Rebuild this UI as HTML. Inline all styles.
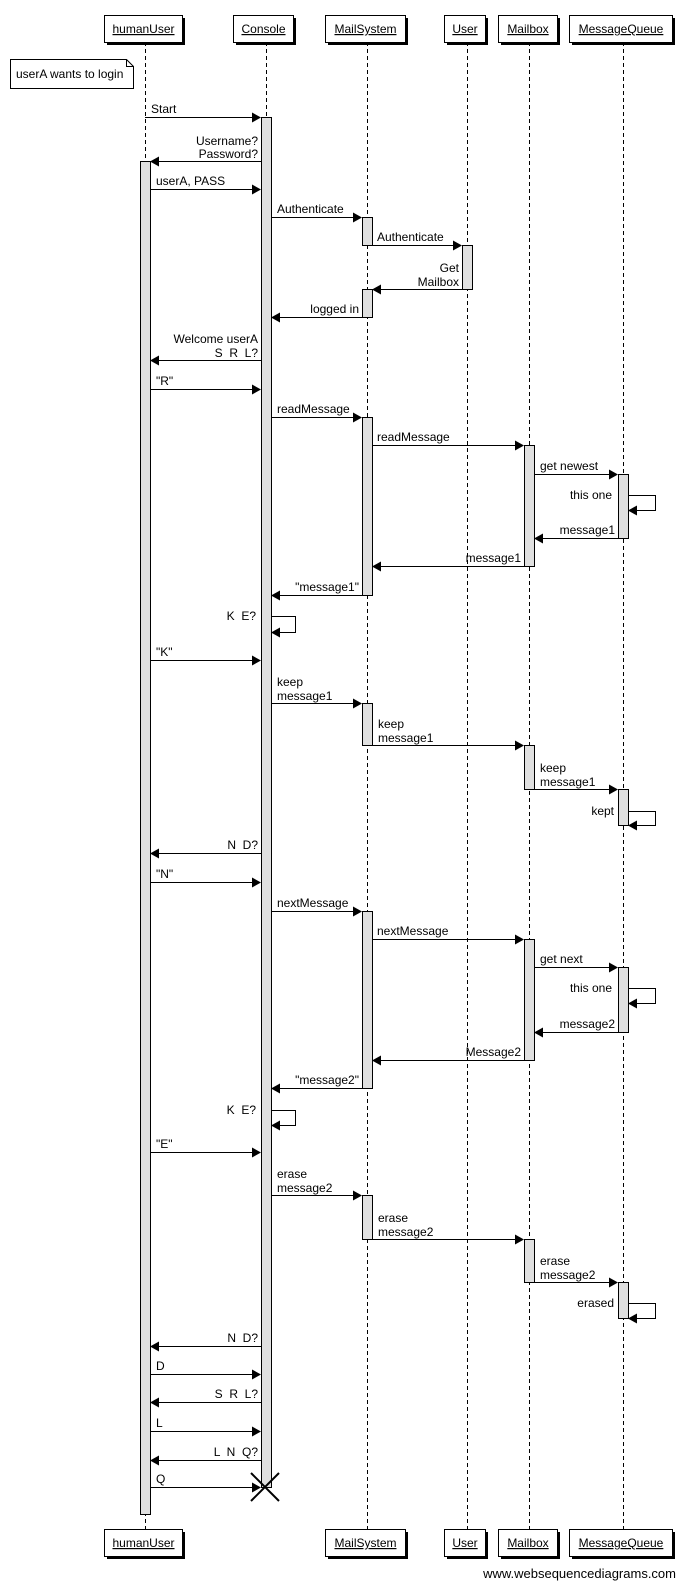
<!DOCTYPE html>
<html><head><meta charset="utf-8"><style>
html,body{margin:0;padding:0;background:#fff;}
svg{display:block;}
text{font-family:"Liberation Sans",Arial,sans-serif;font-size:12px;fill:#000;white-space:pre;}
.e{text-anchor:end;}
.ll{stroke:#000;stroke-width:1;stroke-dasharray:4,3;}
.a{fill:#e0e0e0;stroke:#000;stroke-width:1;}
.m{stroke:#000;stroke-width:1;}
.b{fill:#fff;stroke:#000;stroke-width:1;}
.s{fill:#000;}
.u{text-decoration:underline;text-anchor:middle;}
</style></head><body>
<svg width="691" height="1583" viewBox="0 0 691 1583" xmlns="http://www.w3.org/2000/svg" xml:space="preserve">
<line class="ll" x1="145.5" y1="42" x2="145.5" y2="1529"/>
<line class="ll" x1="266.5" y1="42" x2="266.5" y2="1487"/>
<line class="ll" x1="367.5" y1="42" x2="367.5" y2="1529"/>
<line class="ll" x1="467.5" y1="42" x2="467.5" y2="1529"/>
<line class="ll" x1="529.5" y1="42" x2="529.5" y2="1529"/>
<line class="ll" x1="623.5" y1="42" x2="623.5" y2="1529"/>

<g>
<rect class="s" x="107" y="18" width="78" height="27"/><rect class="b" x="104.5" y="15.5" width="78" height="27"/><text class="u" x="143.5" y="33">humanUser</text>
<rect class="s" x="236" y="18" width="60" height="27"/><rect class="b" x="233.5" y="15.5" width="60" height="27"/><text class="u" x="263.5" y="33">Console</text>
<rect class="s" x="328" y="18" width="80" height="27"/><rect class="b" x="325.5" y="15.5" width="80" height="27"/><text class="u" x="365.5" y="33">MailSystem</text>
<rect class="s" x="447" y="18" width="41" height="27"/><rect class="b" x="444.5" y="15.5" width="41" height="27"/><text class="u" x="465" y="33">User</text>
<rect class="s" x="501" y="18" width="59" height="27"/><rect class="b" x="498.5" y="15.5" width="59" height="27"/><text class="u" x="528" y="33">Mailbox</text>
<rect class="s" x="572" y="18" width="103" height="27"/><rect class="b" x="569.5" y="15.5" width="103" height="27"/><text class="u" x="621" y="33">MessageQueue</text>
</g>

<g>
<rect class="s" x="107" y="1532" width="78" height="27"/><rect class="b" x="104.5" y="1529.5" width="78" height="27"/><text class="u" x="143.5" y="1547">humanUser</text>
<rect class="s" x="328" y="1532" width="80" height="27"/><rect class="b" x="325.5" y="1529.5" width="80" height="27"/><text class="u" x="365.5" y="1547">MailSystem</text>
<rect class="s" x="447" y="1532" width="41" height="27"/><rect class="b" x="444.5" y="1529.5" width="41" height="27"/><text class="u" x="465" y="1547">User</text>
<rect class="s" x="501" y="1532" width="59" height="27"/><rect class="b" x="498.5" y="1529.5" width="59" height="27"/><text class="u" x="528" y="1547">Mailbox</text>
<rect class="s" x="572" y="1532" width="103" height="27"/><rect class="b" x="569.5" y="1529.5" width="103" height="27"/><text class="u" x="621" y="1547">MessageQueue</text>
</g>

<path class="b" d="M10.5 59.5 H126.5 L133.5 66.5 V88.5 H10.5 Z"/>
<path d="M126.5 59.5 V66.5 H133.5" fill="none" stroke="#000"/>
<text x="16" y="78">userA wants to login</text>

<rect class="a" x="140.5" y="161.5" width="10" height="1353"/>
<rect class="a" x="261.5" y="117.5" width="10" height="1370"/>
<rect class="a" x="362.5" y="217.5" width="10" height="28"/>
<rect class="a" x="362.5" y="289.5" width="10" height="28"/>
<rect class="a" x="362.5" y="417.5" width="10" height="178"/>
<rect class="a" x="362.5" y="703.5" width="10" height="42"/>
<rect class="a" x="362.5" y="911.5" width="10" height="177"/>
<rect class="a" x="362.5" y="1195.5" width="10" height="44"/>
<rect class="a" x="462.5" y="245.5" width="10" height="44"/>
<rect class="a" x="524.5" y="445.5" width="10" height="121"/>
<rect class="a" x="524.5" y="745.5" width="10" height="44"/>
<rect class="a" x="524.5" y="939.5" width="10" height="121"/>
<rect class="a" x="524.5" y="1239.5" width="10" height="43"/>
<rect class="a" x="618.5" y="474.5" width="10" height="64"/>
<rect class="a" x="618.5" y="789.5" width="10" height="36"/>
<rect class="a" x="618.5" y="967.5" width="10" height="65"/>
<rect class="a" x="618.5" y="1282.5" width="10" height="36"/>

<g>
<line class="m" x1="145" y1="117.5" x2="254" y2="117.5"/><polygon points="261,117.5 252,112.5 252,122.5"/>
<text x="151" y="113">Start</text>
<line class="m" x1="261" y1="161.5" x2="156" y2="161.5"/><polygon points="150,161.5 159,156.5 159,166.5"/>
<text class="e" x="258" y="145">Username?</text><text class="e" x="258" y="158">Password?</text>
<line class="m" x1="150" y1="189.5" x2="254" y2="189.5"/><polygon points="261,189.5 252,184.5 252,194.5"/>
<text x="156" y="185">userA, PASS</text>
<line class="m" x1="271" y1="217.5" x2="355" y2="217.5"/><polygon points="362,217.5 353,212.5 353,222.5"/>
<text x="277" y="213">Authenticate</text>
<line class="m" x1="372" y1="245.5" x2="455" y2="245.5"/><polygon points="462,245.5 453,240.5 453,250.5"/>
<text x="377" y="241">Authenticate</text>
<line class="m" x1="462" y1="289.5" x2="378" y2="289.5"/><polygon points="372,289.5 381,284.5 381,294.5"/>
<text class="e" x="459" y="272">Get</text><text class="e" x="459" y="286">Mailbox</text>
<line class="m" x1="362" y1="317.5" x2="277" y2="317.5"/><polygon points="271,317.5 280,312.5 280,322.5"/>
<text class="e" x="359" y="313">logged in</text>
<line class="m" x1="261" y1="360.5" x2="156" y2="360.5"/><polygon points="150,360.5 159,355.5 159,365.5"/>
<text class="e" x="258" y="343">Welcome userA</text><text class="e" x="258" y="357">S  R  L?</text>
<line class="m" x1="150" y1="389.5" x2="254" y2="389.5"/><polygon points="261,389.5 252,384.5 252,394.5"/>
<text x="156" y="385">"R"</text>
<line class="m" x1="271" y1="417.5" x2="355" y2="417.5"/><polygon points="362,417.5 353,412.5 353,422.5"/>
<text x="277" y="413">readMessage</text>
<line class="m" x1="372" y1="445.5" x2="517" y2="445.5"/><polygon points="524,445.5 515,440.5 515,450.5"/>
<text x="377" y="441">readMessage</text>
<line class="m" x1="534" y1="474.5" x2="611" y2="474.5"/><polygon points="618,474.5 609,469.5 609,479.5"/>
<text x="540" y="470">get newest</text>
<polyline class="m" fill="none" points="628,495.5 655.5,495.5 655.5,510.5 634,510.5"/><polygon points="628,510.5 637,505.5 637,515.5"/>
<text class="e" x="612" y="499">this one</text>
<line class="m" x1="618" y1="538.5" x2="540" y2="538.5"/><polygon points="534,538.5 543,533.5 543,543.5"/>
<text class="e" x="615" y="534">message1</text>
<line class="m" x1="524" y1="566.5" x2="378" y2="566.5"/><polygon points="372,566.5 381,561.5 381,571.5"/>
<text class="e" x="521" y="562">message1</text>
<line class="m" x1="362" y1="595.5" x2="277" y2="595.5"/><polygon points="271,595.5 280,590.5 280,600.5"/>
<text class="e" x="359" y="591">"message1"</text>
<polyline class="m" fill="none" points="271,616.5 295.5,616.5 295.5,632.5 277,632.5"/><polygon points="271,632.5 280,627.5 280,637.5"/>
<text class="e" x="256" y="620">K  E?</text>
<line class="m" x1="150" y1="660.5" x2="254" y2="660.5"/><polygon points="261,660.5 252,655.5 252,665.5"/>
<text x="156" y="656">"K"</text>
<line class="m" x1="271" y1="703.5" x2="355" y2="703.5"/><polygon points="362,703.5 353,698.5 353,708.5"/>
<text x="277" y="686">keep</text><text x="277" y="700">message1</text>
<line class="m" x1="372" y1="745.5" x2="517" y2="745.5"/><polygon points="524,745.5 515,740.5 515,750.5"/>
<text x="378" y="728">keep</text><text x="378" y="742">message1</text>
<line class="m" x1="534" y1="789.5" x2="611" y2="789.5"/><polygon points="618,789.5 609,784.5 609,794.5"/>
<text x="540" y="772">keep</text><text x="540" y="786">message1</text>
<polyline class="m" fill="none" points="628,811.5 655.5,811.5 655.5,825.5 634,825.5"/><polygon points="628,825.5 637,820.5 637,830.5"/>
<text class="e" x="614" y="815">kept</text>
<line class="m" x1="261" y1="853.5" x2="156" y2="853.5"/><polygon points="150,853.5 159,848.5 159,858.5"/>
<text class="e" x="258" y="849">N  D?</text>
<line class="m" x1="150" y1="882.5" x2="254" y2="882.5"/><polygon points="261,882.5 252,877.5 252,887.5"/>
<text x="156" y="878">"N"</text>
<line class="m" x1="271" y1="911.5" x2="355" y2="911.5"/><polygon points="362,911.5 353,906.5 353,916.5"/>
<text x="277" y="907">nextMessage</text>
<line class="m" x1="372" y1="939.5" x2="517" y2="939.5"/><polygon points="524,939.5 515,934.5 515,944.5"/>
<text x="377" y="935">nextMessage</text>
<line class="m" x1="534" y1="967.5" x2="611" y2="967.5"/><polygon points="618,967.5 609,962.5 609,972.5"/>
<text x="540" y="963">get next</text>
<polyline class="m" fill="none" points="628,988.5 655.5,988.5 655.5,1003.5 634,1003.5"/><polygon points="628,1003.5 637,998.5 637,1008.5"/>
<text class="e" x="612" y="992">this one</text>
<line class="m" x1="618" y1="1032.5" x2="540" y2="1032.5"/><polygon points="534,1032.5 543,1027.5 543,1037.5"/>
<text class="e" x="615" y="1028">message2</text>
<line class="m" x1="524" y1="1060.5" x2="378" y2="1060.5"/><polygon points="372,1060.5 381,1055.5 381,1065.5"/>
<text class="e" x="521" y="1056">Message2</text>
<line class="m" x1="362" y1="1088.5" x2="277" y2="1088.5"/><polygon points="271,1088.5 280,1083.5 280,1093.5"/>
<text class="e" x="359" y="1084">"message2"</text>
<polyline class="m" fill="none" points="271,1110.5 295.5,1110.5 295.5,1125.5 277,1125.5"/><polygon points="271,1125.5 280,1120.5 280,1130.5"/>
<text class="e" x="256" y="1114">K  E?</text>
<line class="m" x1="150" y1="1152.5" x2="254" y2="1152.5"/><polygon points="261,1152.5 252,1147.5 252,1157.5"/>
<text x="156" y="1148">"E"</text>
<line class="m" x1="271" y1="1195.5" x2="355" y2="1195.5"/><polygon points="362,1195.5 353,1190.5 353,1200.5"/>
<text x="277" y="1178">erase</text><text x="277" y="1192">message2</text>
<line class="m" x1="372" y1="1239.5" x2="517" y2="1239.5"/><polygon points="524,1239.5 515,1234.5 515,1244.5"/>
<text x="378" y="1222">erase</text><text x="378" y="1236">message2</text>
<line class="m" x1="534" y1="1282.5" x2="611" y2="1282.5"/><polygon points="618,1282.5 609,1277.5 609,1287.5"/>
<text x="540" y="1265">erase</text><text x="540" y="1279">message2</text>
<polyline class="m" fill="none" points="628,1303.5 655.5,1303.5 655.5,1318.5 634,1318.5"/><polygon points="628,1318.5 637,1313.5 637,1323.5"/>
<text class="e" x="614" y="1307">erased</text>
<line class="m" x1="261" y1="1346.5" x2="156" y2="1346.5"/><polygon points="150,1346.5 159,1341.5 159,1351.5"/>
<text class="e" x="258" y="1342">N  D?</text>
<line class="m" x1="150" y1="1374.5" x2="254" y2="1374.5"/><polygon points="261,1374.5 252,1369.5 252,1379.5"/>
<text x="156" y="1370">D</text>
<line class="m" x1="261" y1="1402.5" x2="156" y2="1402.5"/><polygon points="150,1402.5 159,1397.5 159,1407.5"/>
<text class="e" x="258" y="1398">S  R  L?</text>
<line class="m" x1="150" y1="1431.5" x2="254" y2="1431.5"/><polygon points="261,1431.5 252,1426.5 252,1436.5"/>
<text x="156" y="1427">L</text>
<line class="m" x1="261" y1="1460.5" x2="156" y2="1460.5"/><polygon points="150,1460.5 159,1455.5 159,1465.5"/>
<text class="e" x="258" y="1456">L  N  Q?</text>
<line class="m" x1="150" y1="1487.5" x2="254" y2="1487.5"/><polygon points="261,1487.5 252,1482.5 252,1492.5"/>
<text x="156" y="1483">Q</text>
<line x1="251" y1="1473" x2="279" y2="1501" stroke="#000" stroke-width="2"/>
<line x1="279" y1="1473" x2="251" y2="1501" stroke="#000" stroke-width="2"/>
</g>
<text x="676" y="1578" text-anchor="end" style="font-size:13px">www.websequencediagrams.com</text>
</svg>
</body></html>
